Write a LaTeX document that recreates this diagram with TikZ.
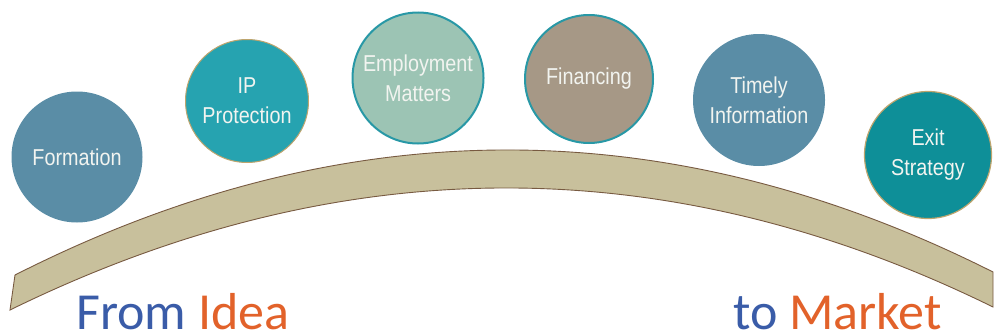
\documentclass[tikz,border=0pt]{standalone}
\usepackage{fontspec}
\setmainfont{Liberation Sans}
\newfontfamily\condfont{Liberation Sans}[FakeStretch=0.86]
\newfontfamily\titlefont{Carlito}
\definecolor{steel}{RGB}{90,141,166}
\definecolor{tealA}{RGB}{38,163,176}
\definecolor{mint}{RGB}{156,196,180}
\definecolor{taupe}{RGB}{166,152,134}
\definecolor{tealB}{RGB}{14,143,152}
\definecolor{rimteal}{RGB}{40,152,166}
\definecolor{rimgold}{RGB}{190,165,110}
\definecolor{band}{RGB}{200,192,156}
\definecolor{bandedge}{RGB}{120,90,65}
\definecolor{wordblue}{RGB}{58,92,168}
\definecolor{wordorange}{RGB}{226,98,42}
\definecolor{labeltext}{RGB}{242,244,240}
\begin{document}
\begin{tikzpicture}[x=1pt,y=-1pt,
  stage/.style={circle,minimum size=#1,inner sep=0pt,align=center,
    text=labeltext,font=\condfont\fontsize{23}{30}\selectfont},
  stage/.default=130pt,
  caption/.style={anchor=base west,inner sep=0pt,
    font=\titlefont\fontsize{52}{52}\selectfont}]
\useasboundingbox (0,0) rectangle (995,332);
% the arched road
\path[fill=band,draw=bandedge,line width=0.9pt]
  (15,275) .. controls (341.7,109.3) and (667.7,108.3) .. (993,272)
  -- (993,307) .. controls (667.7,147.3) and (340,148.3) .. (10,310) -- cycle;
% stages along the road
\node[stage=131pt,fill=steel] (formation) at (77,157) {Formation};
\node[stage=123pt,fill=tealA,draw=rimgold,line width=1pt] (ip) at (247,101) {IP\\Protection};
\node[stage=131pt,fill=mint,draw=rimteal,line width=2pt] (employment) at (418,78) {Employment\\Matters};
\node[stage=128pt,fill=taupe,draw=rimteal,line width=2pt] (financing) at (589,79) {Financing};
\node[stage=132pt,fill=steel] (timely) at (759,100) {Timely\\Information};
\node[stage=127pt,fill=tealB,draw=rimgold,line width=1.2pt] (exit) at (928,155) {Exit\\Strategy};
% captions
\node[caption] (from) at (76,329)
  {\textcolor{wordblue}{From} \textcolor{wordorange}{Idea}};
\node[caption] (to) at (733,329)
  {\textcolor{wordblue}{to} \textcolor{wordorange}{Market}};
\end{tikzpicture}
\end{document}
